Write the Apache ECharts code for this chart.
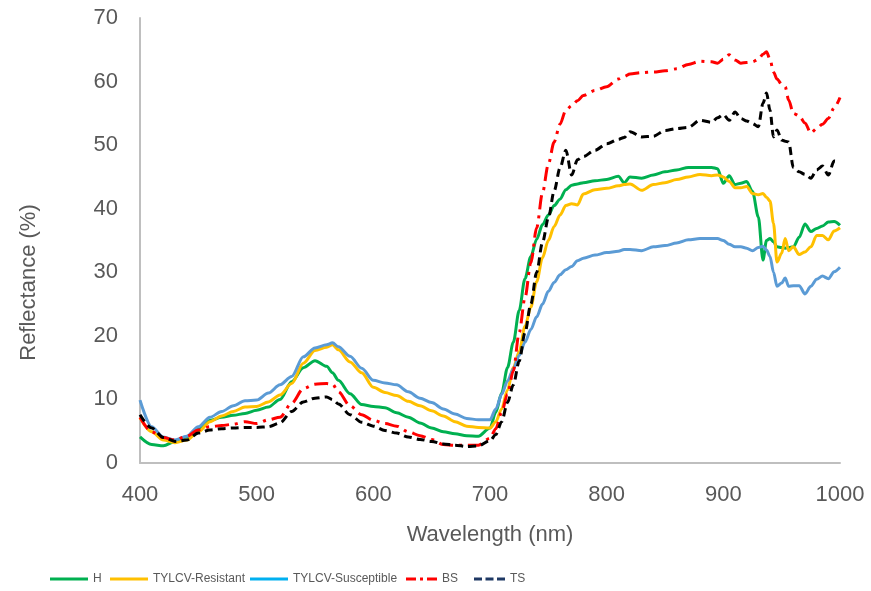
<!DOCTYPE html>
<html>
<head>
<meta charset="utf-8">
<script src="https://cdn.jsdelivr.net/npm/echarts@6/dist/echarts.min.js"></script>
<style>html,body{margin:0;padding:0;background:#fff;}#chart{width:871px;height:591px;}</style>
</head>
<body>
<div id="chart"></div>
<script>
const wavelengths = [
  400,410,420,430,440,450,460,470,480,490,
  500,510,520,530,540,550,560,565,570,580,
  590,600,610,620,630,640,650,660,670,680,
  690,700,705,710,715,720,725,730,735,740,
  745,750,755,760,765,770,775,780,790,800,
  810,815,820,830,840,850,860,870,880,890,
  895,900,905,910,915,920,925,930,934,937,
  940,943,946,950,953,956,960,965,970,975,
  980,985,990,995,1000
];
const healthy = [
  4.1,2.9,2.7,3.4,4.1,5.4,6.7,7.2,7.5,7.8,
  8.3,8.8,10.0,12.8,15.0,16.1,15.2,14.2,13.0,10.9,
  9.2,8.9,8.7,7.9,7.2,6.3,5.5,4.9,4.6,4.3,
  4.2,5.5,8.0,11.0,15.0,19.0,24.0,29.0,32.5,35.2,
  37.5,39.0,40.5,41.5,43.0,43.7,43.9,44.1,44.4,44.6,
  45.1,44.1,45.0,44.8,45.3,45.8,46.1,46.5,46.5,46.5,
  46.3,44.0,45.2,43.8,44.0,44.3,42.7,38.7,31.9,35.0,
  35.3,34.8,34.0,33.9,33.8,33.9,34.0,35.5,37.6,36.4,
  36.9,37.3,37.9,38.0,37.4
];
const resistant = [
  7.1,4.9,3.6,3.2,3.6,4.9,6.5,7.4,8.1,8.8,
  8.9,9.6,10.7,12.5,15.7,17.7,18.2,18.6,17.8,15.9,
  14.2,11.9,11.1,10.6,9.7,9.0,8.2,7.4,6.5,5.8,
  5.6,5.5,6.5,8.5,11.5,15.0,17.5,21.5,24.5,28.5,
  32.3,35.0,37.2,39.0,40.5,40.8,40.6,42.3,43.0,43.2,
  43.6,43.8,43.9,42.9,43.8,44.1,44.6,45.0,45.4,45.2,
  45.3,45.0,44.3,43.3,43.3,43.5,42.4,42.2,42.4,41.8,
  41.2,37.7,31.6,33.0,35.3,33.4,34.0,32.8,33.2,34.0,
  35.8,35.8,35.1,36.5,37.0
];
const susceptible = [
  9.9,5.7,4.1,3.6,4.2,5.7,7.2,8.1,9.0,9.8,
  9.9,11.0,12.3,13.6,16.7,18.1,18.6,18.9,18.3,16.8,
  14.9,13.0,12.6,12.3,11.2,10.2,9.5,8.5,7.7,7.0,
  6.8,6.8,8.5,10.8,12.9,14.8,16.9,19.0,21.0,23.0,
  25.0,27.0,28.4,29.6,30.4,30.9,31.8,32.2,32.7,33.1,
  33.3,33.6,33.6,33.4,34.0,34.2,34.6,35.1,35.3,35.3,
  35.3,35.0,34.4,34.0,34.0,33.8,33.4,33.9,34.1,33.5,
  32.5,30.0,27.8,28.3,29.1,27.8,27.9,27.9,26.6,27.8,
  28.9,29.4,29.0,30.1,30.8
];
const bs = [
  7.2,4.9,4.0,3.6,4.2,5.2,5.7,5.9,6.1,6.5,
  6.2,6.8,7.2,9.4,11.7,12.4,12.5,12.4,11.2,9.0,
  7.6,6.7,6.2,5.8,4.9,4.3,3.7,2.9,2.8,2.8,
  2.8,3.9,5.4,8.0,10.8,14.5,20.5,26.0,31.5,37.0,
  42.5,47.0,50.5,53.3,55.5,56.2,57.0,57.8,58.6,59.2,
  60.4,60.8,61.2,61.4,61.5,61.7,62.0,62.7,63.2,63.1,
  62.9,63.5,64.2,63.4,62.9,63.0,63.1,63.5,64.3,64.7,
  63.5,61.5,60.4,59.6,59.2,57.1,55.0,54.6,53.5,51.9,
  52.6,53.3,54.2,55.9,57.5
];
const ts = [
  7.6,5.5,4.0,3.4,3.6,4.7,5.2,5.4,5.5,5.6,
  5.6,5.7,6.3,8.1,9.6,10.2,10.4,10.0,9.3,7.6,
  6.4,5.8,5.1,4.7,4.1,3.7,3.4,3.0,2.8,2.6,
  2.7,3.5,4.5,6.5,9.5,12.3,16.0,20.5,25.0,30.0,
  34.7,38.5,42.8,46.4,49.2,45.3,47.7,48.2,49.2,50.2,
  50.9,51.2,52.1,51.3,51.4,52.3,52.6,52.8,53.9,53.6,
  54.3,54.8,53.9,55.2,54.2,53.8,53.4,52.9,56.6,58.2,
  55.5,51.3,52.4,50.8,50.6,50.5,46.5,45.8,45.4,44.8,
  46.1,46.7,45.3,47.5,47.4
];
const seriesNames = ['H','TYLCV-Resistant','TYLCV-Susceptible','BS','TS'];
const xTicks = [400,500,600,700,800,900,1000];

const lineColors = ['#00B050','#FFC000','#5B9BD5','#FF0000','#000000'];
const legendColors = ['#00B050','#FFC000','#00B0F0','#FF0000','#1F3864'];
const dashTypes = ['solid','solid','solid',[14,6,3,6],[8,5]];
const legendIcons = [
  'path://M0,0H38V3H0Z',
  'path://M0,0H38V3H0Z',
  'path://M0,0H38V3H0Z',
  'path://M0,0H10V3H0Z M14,0H17V3H14Z M21,0H31V3H21Z',
  'path://M0,0H8V3H0Z M11.5,0H19.5V3H11.5Z M23,0H31V3H23Z'
];
const legendLefts = [50,110,250,406,474];
const legendWidths = [38,38,38,31,31];
const values = [healthy, resistant, susceptible, bs, ts];

const font = 'Liberation Sans, Arial, sans-serif';
const gray = '#595959';

const chart = echarts.init(document.getElementById('chart'));
chart.setOption({
  animation: false,
  backgroundColor: '#ffffff',
  grid: {left: 140, right: 31, top: 18, bottom: 128, containLabel: false},
  xAxis: {
    type: 'value', min: 400, max: 1000, interval: 100,
    name: 'Wavelength (nm)', nameLocation: 'middle', nameGap: 61,
    nameTextStyle: {color: gray, fontSize: 22, fontFamily: font},
    axisLine: {show: true, lineStyle: {color: '#BFBFBF', width: 2}},
    axisTick: {show: false},
    splitLine: {show: false},
    axisLabel: {color: gray, fontSize: 22, margin: 21, fontFamily: font,
      formatter: v => xTicks.indexOf(v) >= 0 ? String(v) : ''}
  },
  yAxis: {
    type: 'value', min: 0, max: 70, interval: 10,
    name: 'Reflectance (%)', nameLocation: 'middle', nameGap: 100, nameRotate: 90,
    nameTextStyle: {color: gray, fontSize: 22, fontFamily: font, padding: [0, 84, 0, 0]},
    axisLine: {show: true, lineStyle: {color: '#BFBFBF', width: 2}},
    axisTick: {show: false},
    splitLine: {show: false},
    axisLabel: {color: gray, fontSize: 22, margin: 22, fontFamily: font}
  },
  legend: seriesNames.map((n, i) => ({
    left: legendLefts[i], top: 573, padding: 0,
    itemWidth: legendWidths[i], itemHeight: 3,
    textStyle: {color: gray, fontSize: 12, fontFamily: font},
    data: [{name: n, icon: legendIcons[i],
            itemStyle: {color: legendColors[i], borderWidth: 0}}]
  })),
  series: seriesNames.map((n, i) => ({
    name: n, type: 'line', symbol: 'none', showSymbol: false,
    smooth: 0.3, smoothMonotone: 'x',
    itemStyle: {color: legendColors[i]},
    lineStyle: {color: lineColors[i], width: 3, type: dashTypes[i]},
    data: wavelengths.map((w, j) => [w, values[i][j]])
  }))
});
</script>
</body>
</html>
